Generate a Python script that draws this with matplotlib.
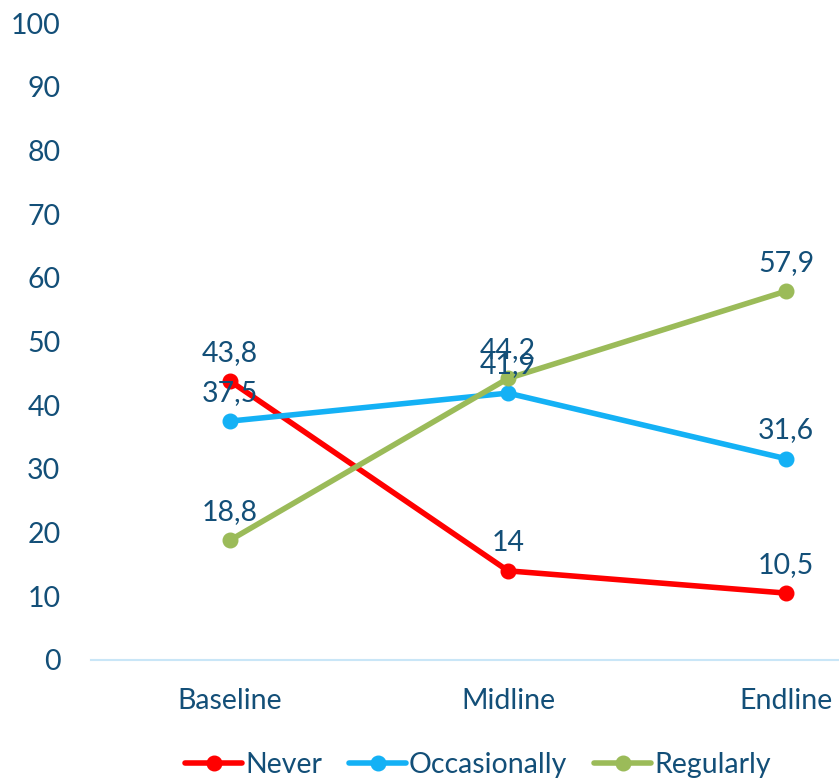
import matplotlib.pyplot as plt

# данные
stages = ["Baseline", "Midline", "Endline"]
never = [43.8, 14, 10.5]
occasionally = [37.5, 41.9, 31.6]
regularly = [18.8, 44.2, 57.9]

txt_color = "#134F78"
plt.rcParams['font.family'] = ['Lato', 'DejaVu Sans']

fig = plt.figure(figsize=(8.39, 7.80), dpi=100)
ax = fig.add_axes([91 / 839, 120 / 780, 834 / 839, 637 / 780])

series = [("Never", never, "#FF0000"),
          ("Occasionally", occasionally, "#14B1F5"),
          ("Regularly", regularly, "#9BBB59")]

x = list(range(len(stages)))
for name, vals, col in series:
    ax.plot(x, vals, color=col, lw=4, marker="o", ms=10.5, label=name,
            solid_capstyle="round")
    for xi, v in zip(x, vals):
        lab = ("%g" % v).replace(".", ",")
        ax.annotate(lab, (xi, v), xytext=(0, 11), textcoords="offset points",
                    ha="center", va="bottom", fontsize=20.5, color=txt_color)

ax.set_xlim(-0.5, 2.5)
ax.set_ylim(0, 100)
ax.set_yticks(range(0, 101, 10))
ax.set_xticks(x)
ax.set_xticklabels(stages)
ax.tick_params(axis="y", length=0, pad=22, labelsize=20.5, labelcolor=txt_color)
ax.tick_params(axis="x", length=0, pad=20, labelsize=20.5, labelcolor=txt_color)

for s in ["top", "right", "left"]:
    ax.spines[s].set_visible(False)
ax.spines["bottom"].set_color("#C9E6F7")
ax.spines["bottom"].set_linewidth(1.5)

fig.legend(loc="lower center", bbox_to_anchor=(478 / 839, -0.03), ncol=3,
           frameon=False, fontsize=20.5, labelcolor=txt_color,
           handlelength=2.0, handletextpad=0.1, columnspacing=0.95)

fig.savefig("out.png", dpi=100)
